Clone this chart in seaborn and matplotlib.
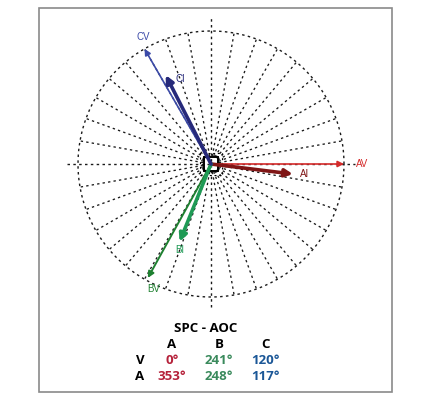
import numpy as np
import pandas as pd
import matplotlib
matplotlib.use("Agg")
import matplotlib.pyplot as plt
import seaborn as sns

# ---- data ----
phasor_names = ["AV", "AI", "BV", "BI", "CV", "CI"]
phasor_angles = [0, 353, 241, 248, 120, 117]          # degrees
phasor_mags = [1.0, 0.62, 0.98, 0.63, 1.0, 0.75]       # relative to circle
phasor_colors = ["#d42a2a", "#7f1515", "#1e8030", "#1f9a55", "#3b4aa8", "#26297a"]
phasor_widths = [1.2, 2.6, 1.4, 2.6, 1.2, 2.6]
label_offsets = [(1.09, 0.0), (0.67, -0.075), (-0.48, -0.94), (-0.27, -0.65), (-0.56, 0.955), (-0.27, 0.64)]

title = "SPC - AOC"
col_headers = ["A", "B", "C"]
row_headers = ["V", "A"]
v_angles = [0, 241, 120]
i_angles = [353, 248, 117]
col_colors = ["#b5213a", "#3a8a5c", "#1b5797"]

sns.set_theme(style="white")
plt.rcParams["font.family"] = ["Liberation Sans", "DejaVu Sans"]

W, H = 430, 400
fig = plt.figure(figsize=(W / 100, H / 100), dpi=100)

# figure border
fig.patches.append(plt.Rectangle((39 / W, 1 - 392 / H), (392 - 39) / W, (392 - 8) / H,
                                 transform=fig.transFigure, fill=False, ec="#8a8a8a", lw=1.2))

cx, cy, R = 211, 164, 133
left_px, right_px, top_px, bot_px = 50, 372, 10, 318
ax = fig.add_axes([left_px / W, 1 - bot_px / H, (right_px - left_px) / W, (bot_px - top_px) / H])
ax.set_xlim((left_px - cx) / R, (right_px - cx) / R)
ax.set_ylim((cy - bot_px) / R, (cy - top_px) / R)
ax.axis("off")

dot = (0, (1.8, 2.4))
gcol = "#1a1a1a"
# outer circle
t = np.linspace(0, 2 * np.pi, 361)
circ = pd.DataFrame({"x": np.cos(t), "y": np.sin(t), "i": np.arange(len(t))})
sns.lineplot(data=circ, x="x", y="y", sort=False, estimator=None, ax=ax,
             color=gcol, lw=1.0, linestyle=dot, zorder=1)

# radial spokes every 10 degrees
for a in range(0, 360, 10):
    if a % 90 == 0:
        continue
    r = np.radians(a)
    ax.plot([0.06 * np.cos(r), np.cos(r)], [0.06 * np.sin(r), np.sin(r)],
            color=gcol, lw=0.95, linestyle=dot, zorder=1)
# axes lines extending beyond
ax.plot([-1.085, 1.085], [0, 0], color=gcol, lw=1.0, linestyle=dot, zorder=1)
ax.plot([0, 0], [-1.075, 1.10], color=gcol, lw=1.0, linestyle=dot, zorder=1)

# center squares
for s, lw in [(0.05, 1.4), (0.085, 0.8)]:
    ax.add_patch(plt.Rectangle((-s, -s), 2 * s, 2 * s, fill=False, ec="black", lw=lw,
                               linestyle="-" if s < 0.06 else dot, zorder=2))

# phasors
for name, ang, mag, col, w, (lx, ly) in zip(phasor_names, phasor_angles, phasor_mags,
                                             phasor_colors, phasor_widths, label_offsets):
    r = np.radians(ang)
    ax.annotate("", xy=(mag * np.cos(r), mag * np.sin(r)), xytext=(0, 0),
                arrowprops=dict(arrowstyle="-|>", color=col, lw=w,
                                mutation_scale=9 if w < 2 else 11, shrinkA=0, shrinkB=0),
                zorder=4)
    ax.text(lx, ly, name, color=col, fontsize=7, ha="left", va="center", zorder=5)

# table below
tf = dict(fontsize=9.5, fontweight="bold", family=["Open Sans", "DejaVu Sans"],
          ha="center", va="center")
fig.text(206 / W, 1 - 329 / H, title, color="black", **tf)
col_x = [172, 219, 265]
for x, h in zip(col_x, col_headers):
    fig.text(x / W, 1 - 344 / H, h, color="black", **tf)
fig.text(140 / W, 1 - 360 / H, row_headers[0], color="black", **tf)
fig.text(140 / W, 1 - 376 / H, row_headers[1], color="black", **tf)
for x, v, i, c in zip(col_x, v_angles, i_angles, col_colors):
    fig.text(x / W, 1 - 360 / H, f"{v}°", color=c, **tf)
    fig.text(x / W, 1 - 376 / H, f"{i}°", color=c, **tf)

fig.savefig("out.png", dpi=100)
